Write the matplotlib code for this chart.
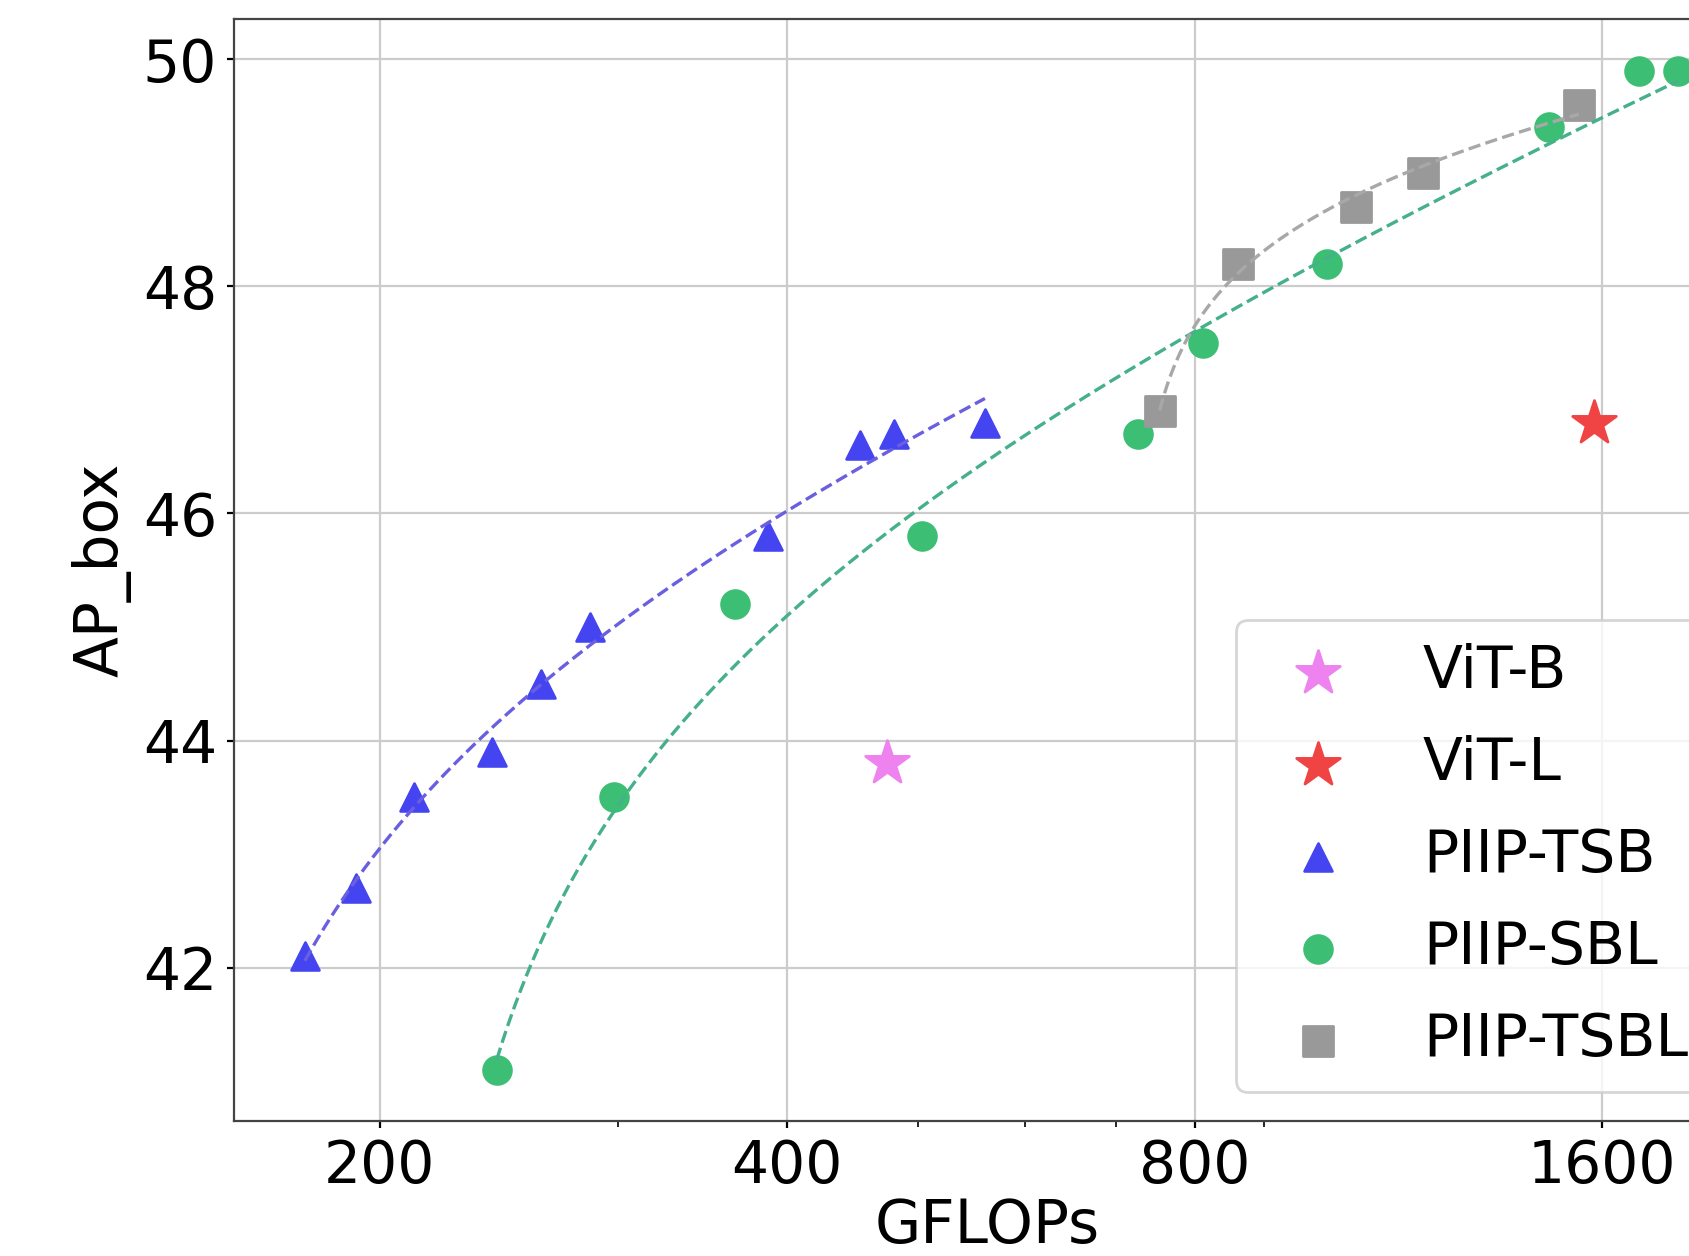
import numpy as np
import matplotlib
matplotlib.use("Agg")
import matplotlib.pyplot as plt

plt.rcParams.update({
    "font.family": ["DejaVu Sans"],
    "font.size": 21,
    "axes.labelsize": 21.5,
    "xtick.labelsize": 21,
    "ytick.labelsize": 21,
    "legend.fontsize": 21,
})

# ---- data (GFLOPs, AP_box) ----
vitb_x = [474]
vitb_y = [43.8]
vitl_x = [1579]
vitl_y = [46.8]

tsb_x = [176, 192, 212, 242, 263, 286, 387, 453, 480, 560]
tsb_y = [42.1, 42.7, 43.5, 43.9, 44.5, 45.0, 45.8, 46.6, 46.7, 46.8]

sbl_x = [244, 298, 366, 503, 727, 811, 1002, 1462, 1705, 1822]
sbl_y = [41.1, 43.5, 45.2, 45.8, 46.7, 47.5, 48.2, 49.4, 49.9, 49.9]

tsbl_x = [754, 861, 1053, 1180, 1539]
tsbl_y = [46.9, 48.2, 48.7, 49.0, 49.6]

x_ticks = [200, 400, 800, 1600]
y_ticks = [42, 44, 46, 48, 50]


def log_fit(x, y, n=400):
    """least squares fit of y = a + b*ln(x - c), c by grid search"""
    x = np.asarray(x, float)
    y = np.asarray(y, float)
    best = None
    for c in np.linspace(-2 * x.min(), x.min() * 0.995, 3000):
        u = np.log(x - c)
        A = np.vstack([np.ones_like(u), u]).T
        coef, res, _, _ = np.linalg.lstsq(A, y, rcond=None)
        sse = np.sum((A @ coef - y) ** 2)
        if best is None or sse < best[0]:
            best = (sse, c, coef)
    _, c, (a, b) = best
    xs = np.geomspace(x.min(), x.max(), n)
    return xs, a + b * np.log(xs - c)


fig = plt.figure(figsize=(8.445, 6.28), dpi=200)
ax = fig.add_axes([0.1385, 0.1075, 0.892, 0.877])

ax.scatter(vitb_x, vitb_y, marker="*", s=272, color="#ee82ee", label="ViT-B", zorder=3)
ax.scatter(vitl_x, vitl_y, marker="*", s=272, color="#f04444", label="ViT-L", zorder=3)
ax.scatter(tsb_x, tsb_y, marker="^", s=100, color="#4444f0", label="PIIP-TSB", zorder=3)
ax.scatter(sbl_x, sbl_y, marker="o", s=100, color="#3cbf74", label="PIIP-SBL", zorder=3)
ax.scatter(tsbl_x, tsbl_y, marker="s", s=115, color="#999999", label="PIIP-TSBL", zorder=3)

for xs_, ys_, col in [(tsb_x, tsb_y, "#6a5fe0"), (sbl_x, sbl_y, "#45b08a"),
                      (tsbl_x, tsbl_y, "#a8a8a8")]:
    fx, fy = log_fit(xs_, ys_)
    ax.plot(fx, fy, "--", color=col, linewidth=1.2, zorder=4)

ax.set_xscale("log")
ax.set_xticks(x_ticks)
ax.set_xticklabels([str(t) for t in x_ticks])
ax.set_yticks(y_ticks)
ax.set_xlim(156, 2026)
ax.set_ylim(40.65, 50.35)
ax.grid(True, which="major", color="#cccccc", linewidth=0.8)
ax.set_axisbelow(True)
ax.tick_params(which="major", length=2.5)
ax.set_xlabel("GFLOPs", labelpad=1)
ax.set_ylabel("AP_box")
for sp in ax.spines.values():
    sp.set_color("#444444")

ax.legend(loc="lower right", scatterpoints=1, labelspacing=0.6)

fig.savefig("out.png", dpi=200)
